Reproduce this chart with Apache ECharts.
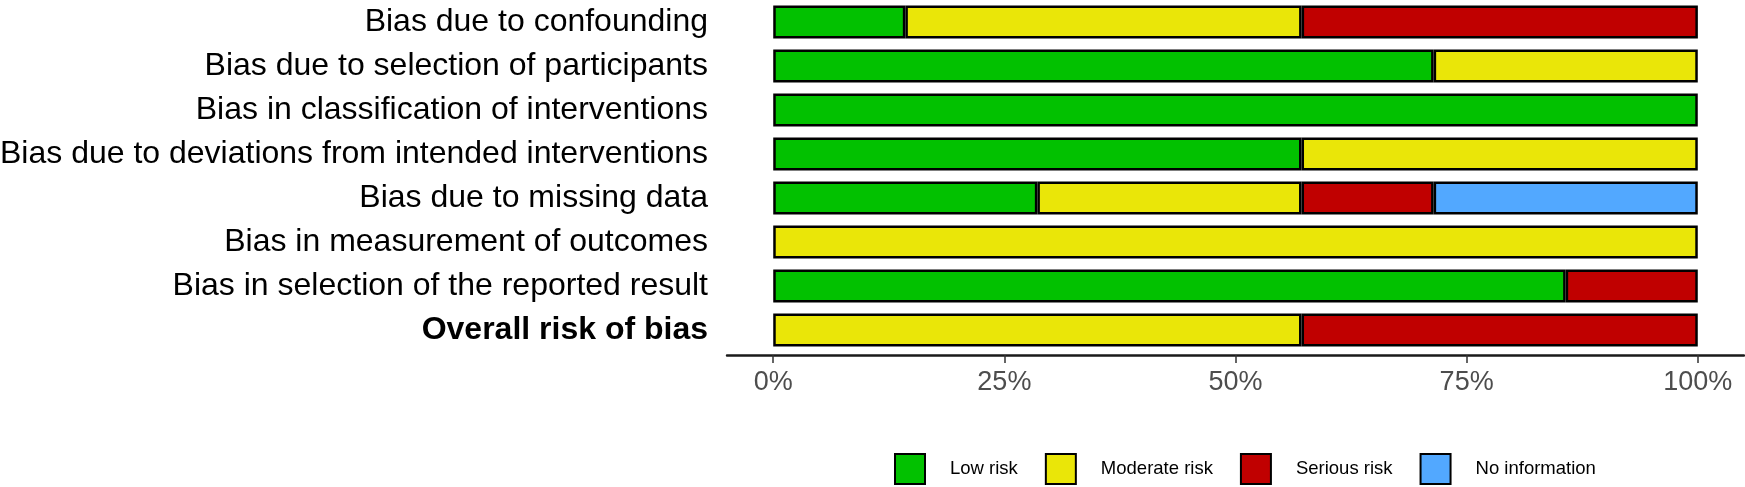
<!DOCTYPE html>
<html>
<head>
<meta charset="utf-8">
<script src="https://cdn.jsdelivr.net/npm/echarts@6/dist/echarts.min.js"></script>
<style>
html,body{margin:0;padding:0;background:#fff;}
#chart{width:1745px;height:487px;}
</style>
</head>
<body>
<div id="chart"></div>
<script>
const domains = [
  "Bias due to confounding",
  "Bias due to selection of participants",
  "Bias in classification of interventions",
  "Bias due to deviations from intended interventions",
  "Bias due to missing data",
  "Bias in measurement of outcomes",
  "Bias in selection of the reported result",
  "Overall risk of bias"
];
const lowRisk      = [0.1429, 0.7143, 1.0000, 0.5714, 0.2857, 0.0000, 0.8571, 0.0000];
const moderateRisk = [0.4286, 0.2857, 0.0000, 0.4286, 0.2857, 1.0000, 0.0000, 0.5714];
const seriousRisk  = [0.4286, 0.0000, 0.0000, 0.0000, 0.1429, 0.0000, 0.1429, 0.4286];
const noInfo       = [0.0000, 0.0000, 0.0000, 0.0000, 0.2857, 0.0000, 0.0000, 0.0000];
const tickValues = [0, 0.25, 0.5, 0.75, 1];
const tickLabels = ["0%", "25%", "50%", "75%", "100%"];

const seriesDefs = [
  {name: "Low risk", data: lowRisk, color: "#02C100"},
  {name: "Moderate risk", data: moderateRisk, color: "#EAE608"},
  {name: "Serious risk", data: seriousRisk, color: "#C00000"},
  {name: "No information", data: noInfo, color: "#52A8FF"}
];

const chart = echarts.init(document.getElementById('chart'), null, {renderer: 'canvas'});
const FONT = "Liberation Sans";
chart.setOption({
  animation: false,
  backgroundColor: "#ffffff",
  textStyle: {fontFamily: FONT},
  grid: {left: 727, right: 1, top: 0, height: 352, containLabel: false, outerBoundsMode: 'none'},
  xAxis: {
    type: 'value',
    min: -0.05,
    max: 1.05,
    offset: 3,
    axisLine: {show: true, lineStyle: {color: "#1a1a1a", width: 2.5}},
    axisTick: {show: true, customValues: tickValues, length: 8, lineStyle: {color: "#333333", width: 1.5}},
    axisLabel: {
      customValues: tickValues,
      margin: 14,
      fontSize: 27,
      color: "#4D4D4D",
      fontFamily: FONT,
      formatter: function (v) {
        const i = tickValues.findIndex(t => Math.abs(t - v) < 1e-9);
        return i >= 0 ? tickLabels[i] : '';
      }
    },
    splitLine: {show: false}
  },
  yAxis: {
    type: 'category',
    inverse: true,
    data: domains.map((d, i) => i === domains.length - 1 ? {value: d, textStyle: {fontWeight: 'bold'}} : d),
    axisLine: {show: false},
    axisTick: {show: false},
    axisLabel: {fontSize: 32, color: "#000000", margin: 19, fontFamily: FONT}
  },
  legend: {
    left: 889,
    top: 448,
    itemWidth: 30,
    itemHeight: 30,
    itemGap: 27,
    icon: 'rect',
    selectedMode: false,
    textStyle: {fontSize: 18.5, color: "#000000", fontFamily: FONT, padding: [0, 0, 0, 20]},
    data: seriesDefs.map(s => s.name)
  },
  series: seriesDefs.map(s => ({
    name: s.name,
    type: 'bar',
    stack: 'total',
    barWidth: 33,
    data: s.data.map(v => v === 0 ? '-' : v),
    itemStyle: {color: s.color, borderColor: "#000000", borderWidth: 2.5},
    emphasis: {disabled: true}
  }))
});
</script>
</body>
</html>
